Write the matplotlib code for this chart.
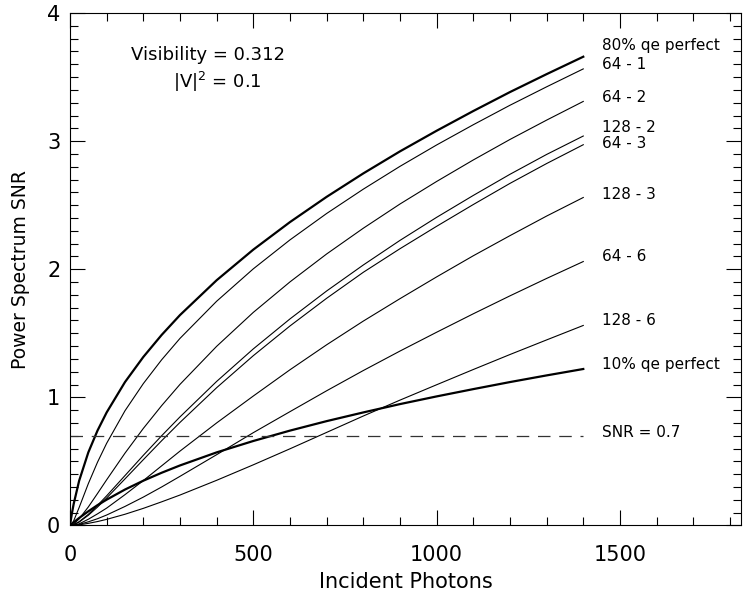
import numpy as np
import matplotlib
matplotlib.use('Agg')
import matplotlib.pyplot as plt
from matplotlib.ticker import MultipleLocator

photons = [0, 5, 10, 25, 50, 75, 100, 150, 200, 250, 300, 400, 500, 600, 700,
           800, 900, 1000, 1100, 1200, 1300, 1400]

snr_80_perfect = [0, 0.090, 0.167, 0.349, 0.570, 0.740, 0.882, 1.119, 1.315, 1.487, 1.642,
                  1.914, 2.153, 2.368, 2.565, 2.748, 2.920, 3.081, 3.235, 3.383, 3.523, 3.659]
snr_64_1 = [0, 0.011, 0.035, 0.140, 0.326, 0.493, 0.641, 0.895, 1.107, 1.293, 1.460,
            1.750, 2.003, 2.229, 2.435, 2.625, 2.803, 2.970, 3.128, 3.280, 3.424, 3.564]
snr_64_2 = [0, 0.003, 0.011, 0.051, 0.144, 0.249, 0.356, 0.564, 0.757, 0.935, 1.101,
            1.398, 1.663, 1.901, 2.119, 2.320, 2.509, 2.685, 2.853, 3.013, 3.164, 3.310]
snr_128_2 = [0, 0.002, 0.006, 0.029, 0.086, 0.156, 0.231, 0.389, 0.547, 0.700, 0.847,
             1.124, 1.378, 1.612, 1.830, 2.033, 2.225, 2.405, 2.576, 2.741, 2.896, 3.040]
snr_64_3 = [0, 0.001, 0.005, 0.026, 0.079, 0.143, 0.214, 0.363, 0.513, 0.661, 0.804,
            1.075, 1.325, 1.557, 1.773, 1.976, 2.160, 2.335, 2.505, 2.670, 2.825, 2.972]
snr_128_3 = [0, 0.001, 0.003, 0.012, 0.048, 0.090, 0.135, 0.240, 0.350, 0.465, 0.580,
             0.800, 1.010, 1.215, 1.410, 1.595, 1.770, 1.940, 2.105, 2.262, 2.415, 2.560]
snr_64_6 = [0, 0.0, 0.002, 0.008, 0.028, 0.052, 0.081, 0.148, 0.221, 0.300, 0.383,
            0.552, 0.724, 0.888, 1.051, 1.209, 1.361, 1.508, 1.652, 1.792, 1.928, 2.060]
snr_128_6 = [0, 0.0, 0.001, 0.004, 0.016, 0.030, 0.047, 0.087, 0.133, 0.184, 0.237,
             0.352, 0.473, 0.598, 0.726, 0.854, 0.978, 1.098, 1.217, 1.334, 1.448, 1.561]
snr_10_perfect = [0, 0.012, 0.024, 0.058, 0.110, 0.158, 0.201, 0.280, 0.349, 0.411, 0.468,
                  0.570, 0.659, 0.740, 0.814, 0.882, 0.947, 1.007, 1.064, 1.119, 1.171, 1.221]

snr_threshold = 0.7
visibility = 0.312
v_squared = 0.1

curve_labels = ['80% qe perfect', '64 - 1', '64 - 2', '128 - 2', '64 - 3',
                '128 - 3', '64 - 6', '128 - 6', '10% qe perfect']
curves = [snr_80_perfect, snr_64_1, snr_64_2, snr_128_2, snr_64_3,
          snr_128_3, snr_64_6, snr_128_6, snr_10_perfect]
thick = [True, False, False, False, False, False, False, False, True]
# label heights at the right of the curves
label_y = [3.746, 3.597, 3.339, 3.104, 2.979, 2.587, 2.102, 1.601, 1.257]

fig = plt.figure(figsize=(7.43, 5.93), dpi=100)
ax = fig.add_axes([0.0942, 0.114, 0.903, 0.864])

for vals, bold in zip(curves, thick):
    ax.plot(photons, vals, color='black', lw=1.6 if bold else 0.8)

ax.plot([0, 1400], [snr_threshold, snr_threshold], color='#333333', lw=0.9,
        dashes=(10, 7))

for lab, ly in zip(curve_labels, label_y):
    ax.text(1452, ly, lab, fontsize=11, va='center', ha='left')
ax.text(1452, 0.724, f'SNR = {snr_threshold}', fontsize=11, va='center', ha='left')

ax.text(166, 3.67, f'Visibility = {visibility}', fontsize=13, va='center')
ax.text(281, 3.46, r'$|$V$|^2$ = ' + f'{v_squared}', fontsize=13, va='center')

ax.set_xlim(0, 1830)
ax.set_ylim(0, 4)
ax.xaxis.set_major_locator(MultipleLocator(500))
ax.xaxis.set_minor_locator(MultipleLocator(100))
ax.yaxis.set_major_locator(MultipleLocator(1))
ax.yaxis.set_minor_locator(MultipleLocator(0.1))
ax.tick_params(which='both', direction='in', top=True, right=True,
               labelsize=15, width=0.8)
ax.tick_params(which='major', length=11)
ax.tick_params(which='minor', length=6)
ax.tick_params(axis='x', which='major', pad=14)
ax.tick_params(axis='y', which='major', pad=7)
for s in ax.spines.values():
    s.set_linewidth(0.8)

ax.set_xlabel('Incident Photons', fontsize=15, labelpad=5)
ax.set_ylabel('Power Spectrum SNR', fontsize=13.5, labelpad=12)

fig.savefig('out.png', dpi=100)
